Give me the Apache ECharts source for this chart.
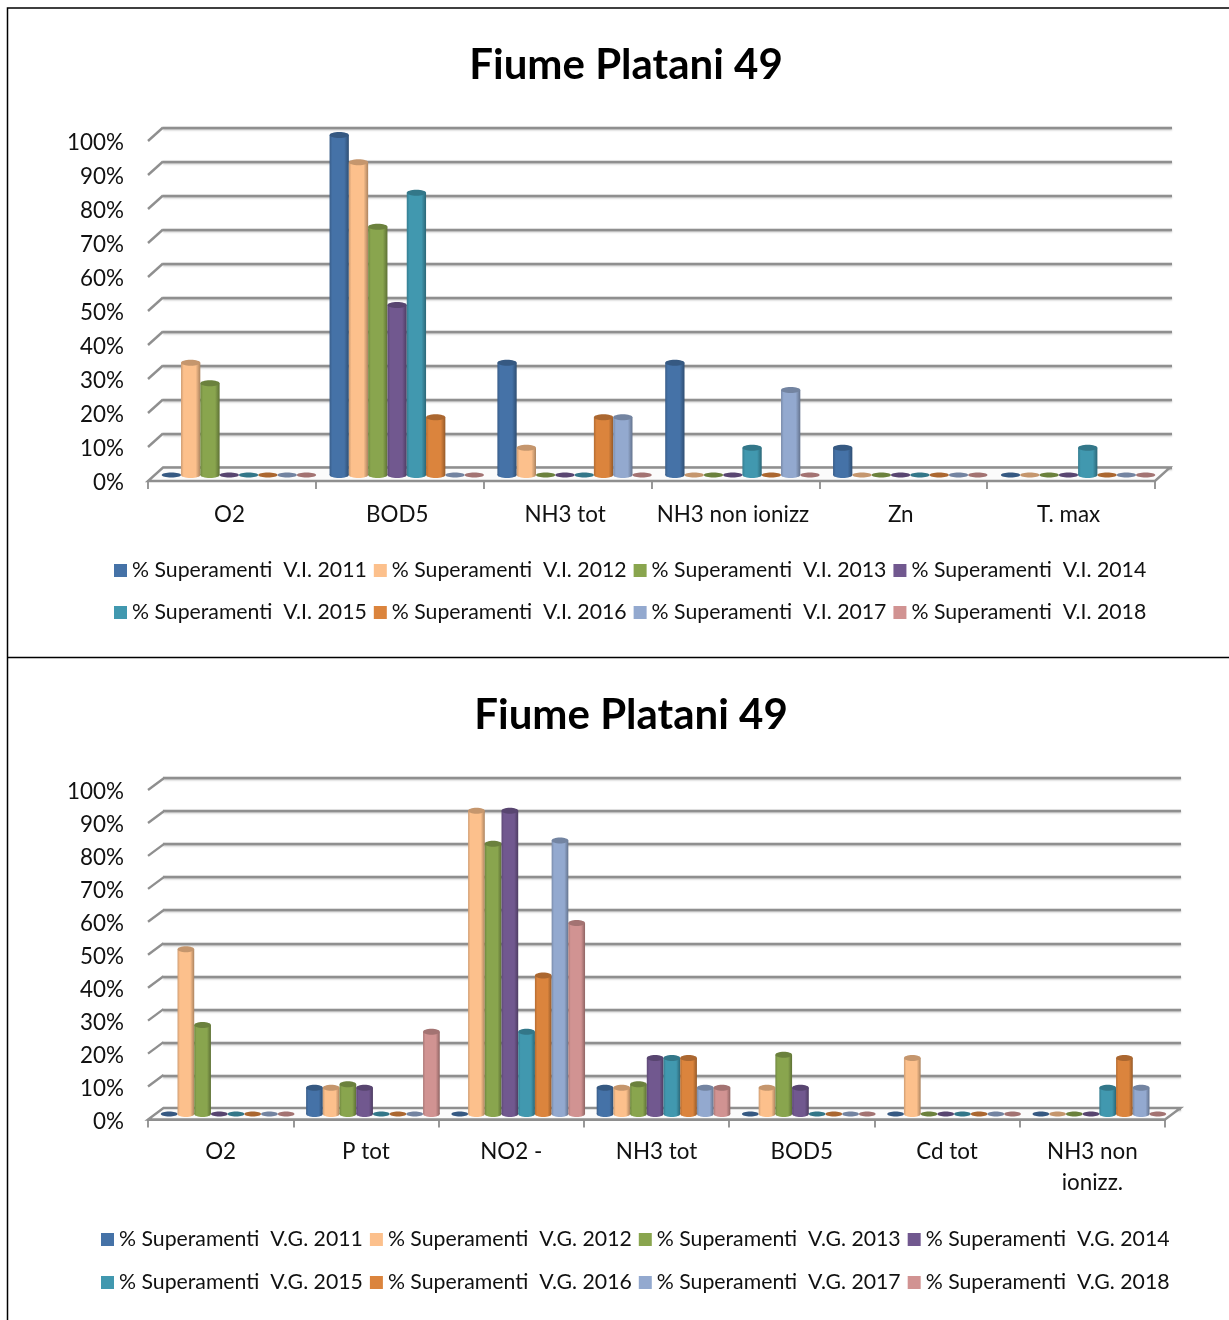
<!DOCTYPE html>
<html><head><meta charset="utf-8">
<style>html,body{margin:0;padding:0;background:#fff}#c{width:1229px;height:1320px}</style>
<script src="https://cdn.jsdelivr.net/npm/echarts@6/dist/echarts.min.js"></script>
</head><body><div id="c"></div>
<script>
const titleText = 'Fiume Platani 49';
const years = [2011,2012,2013,2014,2015,2016,2017,2018];
const palette = ['#4572A7','#FCC08C','#89A54E','#71588F','#4198AF','#DB843D','#93A9CF','#D19392'];
const percentTicks = [0,10,20,30,40,50,60,70,80,90,100];

const categoriesVI = ['O2','BOD5','NH3 tot','NH3 non ionizz','Zn','T. max'];
const vi2011 = [0,100,33,33,8,0];
const vi2012 = [33,92,8,0,0,0];
const vi2013 = [27,73,0,0,0,0];
const vi2014 = [0,50,0,0,0,0];
const vi2015 = [0,83,0,8,0,8];
const vi2016 = [0,17,17,0,0,0];
const vi2017 = [0,0,17,25,0,0];
const vi2018 = [0,0,0,0,0,0];
const valuesVI = [vi2011,vi2012,vi2013,vi2014,vi2015,vi2016,vi2017,vi2018];

const categoriesVG = ['O2','P tot','NO2 -','NH3 tot','BOD5','Cd tot','NH3 non\nionizz.'];
const vg2011 = [0,8,0,8,0,0,0];
const vg2012 = [50,8,92,8,8,17,0];
const vg2013 = [27,9,82,9,18,0,0];
const vg2014 = [0,8,92,17,8,0,0];
const vg2015 = [0,0,25,17,0,0,8];
const vg2016 = [0,0,42,17,0,0,17];
const vg2017 = [0,0,83,8,0,0,8];
const vg2018 = [0,25,58,8,0,0,0];
const valuesVG = [vg2011,vg2012,vg2013,vg2014,vg2015,vg2016,vg2017,vg2018];

const FONT = 'Lato';
const GRID_GREY = '#8f8f8f';

function shade(color, factor){
  const p = echarts.color.parse(color);
  return 'rgb(' + Math.round(p[0]*factor) + ',' + Math.round(p[1]*factor) + ',' + Math.round(p[2]*factor) + ')';
}

function cylinderRender(seriesPos, color, depth){
  return function(params, api){
    const cat = api.value(0), val = api.value(1);
    const base = api.coord([cat, 0]);
    const top = api.coord([cat, val]);
    const catW = api.size([1,0])[0];
    const step = catW * 0.115;
    const cx = base[0] + depth.bx + (seriesPos - 3.5) * step;
    const by = base[1] - depth.by;
    const ty = top[1] - depth.by;
    const rx = step / 2;
    const ry = 3;
    const side = new echarts.graphic.LinearGradient(0,0,1,0,[
      {offset:0, color: shade(color,0.82)},
      {offset:0.14, color: color},
      {offset:0.76, color: color},
      {offset:1, color: shade(color,0.68)}
    ]);
    const children = [];
    if (val > 0) {
      children.push({type:'ellipse', shape:{cx:cx, cy:by, rx:rx, ry:ry}, style:{fill:side}});
      children.push({type:'rect', shape:{x:cx-rx, y:ty, width:rx*2, height:by-ty}, style:{fill:side}});
    }
    children.push({type:'ellipse', shape:{cx:cx, cy:ty, rx:rx, ry: val>0 ? ry : 2.5},
      style:{fill: shade(color, 0.78)}});
    return {type:'group', children:children};
  };
}

function frameRender(depth){
  return function(params, api){
    const cs = params.coordSys;
    const v = api.value(0);
    const p = api.coord([0, v]);
    const x0 = cs.x, y = p[1];
    const lineStyle = {stroke:GRID_GREY, lineWidth:2.4, fill:'none'};
    if (v === 0) {
      return {type:'group', children:[
        {type:'polygon', shape:{points:[[x0,y],[x0+cs.width,y],[x0+cs.width+depth.dx,y-depth.dy],[x0+depth.dx,y-depth.dy]]},
         style:{fill:'#fbfbfb', stroke:GRID_GREY, lineWidth:2.4}}
      ]};
    }
    return {type:'line', shape:{x1:x0, y1:y, x2:x0+depth.dx, y2:y-depth.dy}, style:lineStyle};
  };
}

const option = {
  animation:false,
  backgroundColor:'#fff',
  title:[
    {text:titleText, left:621, top:39, textAlign:'center', textStyle:{fontFamily:FONT, fontWeight:'bold', fontSize:42, color:'#000'}},
    {text:titleText, left:626, top:689, textAlign:'center', textStyle:{fontFamily:FONT, fontWeight:'bold', fontSize:42, color:'#000'}}
  ],
  grid:[
    {left:148, top:141, width:1007, height:340},
    {left:163, top:128, width:1009, height:340},
    {left:148, top:790, width:1017, height:329.5},
    {left:163, top:778, width:1018, height:330.5}
  ],
  xAxis:[],
  yAxis:[],
  legend:[],
  series:[],
  graphic:[
    {type:'polyline', silent:true, z:100, shape:{points:[[1229,8],[7.5,8],[7.5,1320]]}, style:{stroke:'#000', lineWidth:1.5, fill:'none'}},
    {type:'line', silent:true, z:100, shape:{x1:7.5,y1:657.5,x2:1229,y2:657.5}, style:{stroke:'#000', lineWidth:1.5}}
  ]
};

function addChart(frontIdx, backIdx, cats, values, tag, depth, legendRows, xMargin, xPadding){
  option.xAxis[frontIdx] = {type:'category', gridIndex:frontIdx, data:cats, boundaryGap:true,
    axisLine:{show:true, lineStyle:{color:GRID_GREY, width:2}},
    axisTick:{show:true, alignWithLabel:false, length:8, lineStyle:{color:'#7f7f7f', width:1.6}},
    axisLabel:{fontFamily:FONT, fontSize:22.4, color:'#111', margin:xMargin, lineHeight:31, interval:0, padding:xPadding}};
  option.yAxis[frontIdx] = {type:'value', gridIndex:frontIdx, min:0, max:100, interval:10,
    axisLine:{show:false}, axisTick:{show:false}, splitLine:{show:false},
    axisLabel:{fontFamily:FONT, fontSize:22.4, color:'#111', margin:24, formatter:'{value}%', verticalAlign:'top', lineHeight:22, padding:[-9,0,0,0]}};
  option.xAxis[backIdx] = {type:'category', gridIndex:backIdx, data:cats, show:false};
  option.yAxis[backIdx] = {type:'value', gridIndex:backIdx, min:0, max:100, interval:10,
    axisLine:{show:false}, axisTick:{show:false}, axisLabel:{show:false},
    splitLine:{show:true, lineStyle:{color:GRID_GREY, width:2.4, shadowColor:'rgba(0,0,0,0.25)', shadowBlur:2, shadowOffsetY:1}}};

  option.series.push({type:'custom', name:'frame-'+tag, silent:true, z:1,
    xAxisIndex:frontIdx, yAxisIndex:frontIdx, data:percentTicks.map(t=>[t]), encode:{y:0},
    renderItem:frameRender(depth), clip:false, legendHoverLink:false});

  years.forEach((yr,i)=>{
    const name = '% Superamenti  '+tag+' '+yr;
    option.series.push({type:'custom', name:name, z:3,
      xAxisIndex:frontIdx, yAxisIndex:frontIdx,
      itemStyle:{color:palette[i]},
      data:values[i].map((v,c)=>[c,v]), encode:{x:0,y:1},
      renderItem:cylinderRender(i,palette[i],depth), clip:false});
  });

  legendRows.forEach(r=>{
    option.legend.push({left:r.left, top:r.top, padding:0, itemGap:r.gap, itemWidth:13, itemHeight:13, icon:'rect',
      orient:'horizontal', selectedMode:false,
      data:r.years.map(y=>'% Superamenti  '+tag+' '+y),
      textStyle:{fontFamily:FONT, fontSize:21.25, color:'#111'}});
  });
}

addChart(0,1,categoriesVI,valuesVI,'V.I.',{dx:15,dy:13.5,bx:7,by:6},[
  {left:114, top:560, gap:7, years:years.slice(0,4)},
  {left:114, top:602, gap:7, years:years.slice(4,8)}
],18,[0,5,0,0]);
addChart(2,3,categoriesVG,valuesVG,'V.G.',{dx:15.5,dy:11.5,bx:7,by:5.5},[
  {left:101, top:1229, gap:7, years:years.slice(0,4)},
  {left:101, top:1272, gap:7, years:years.slice(4,8)}
],17,[0,0,0,0]);

echarts.init(document.getElementById('c'),null,{renderer:'canvas'}).setOption(option);
</script></body></html>
